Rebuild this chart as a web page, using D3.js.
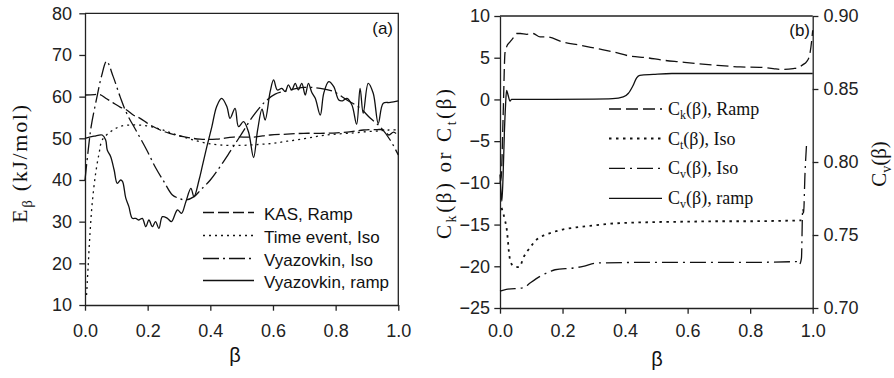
<!DOCTYPE html>
<html><head><meta charset="utf-8">
<script src="https://cdn.jsdelivr.net/npm/d3@7"></script>
<style>
html,body{margin:0;padding:0;background:#fff;}
svg{display:block;}
.tick text{font-family:"Liberation Sans",Arial,sans-serif;font-size:18px;fill:#222;}
</style></head>
<body>
<svg id="c" width="894" height="378"></svg>
<script>
// ---------- Panel (a) data ----------
const kasBeta = [0,.03,.048,.069,.09,.112,.133,.154,.176,.208,.24,.27,.314,.367,.42,.474,.538,.591,.645,.698,.751,.804,.85,.889,.932,.953,.97,.985,1.0];
const kasE    = [60.4,60.5,60.5,59.5,58.5,57.5,56.8,55.6,54.8,53.2,52,51.2,50.4,49.8,49.8,50.3,50.3,50.8,51,51.2,51.2,51.3,51.6,52,52.1,52,50.8,51.5,50.6];

const teBeta = [.005,.01,.016,.023,.034,.045,.055,.082,.114,.154,.197,.24,.27,.31,.346,.389,.431,.495,.549,.6,.645,.7,.751,.8,.857,.9,.942,.97,1.0];
const teE    = [12.4,19.2,27.2,34.4,41.6,46.4,49.6,51.6,52.9,53.2,53,52.2,51.4,50.4,49.6,48.8,48.4,48.3,48.5,48.8,49.3,49.9,50.6,51,51.3,51.6,51.8,52,52];

const vIsoBeta = [0,.01,.02,.037,.053,.069,.09,.112,.133,.165,.197,.225,.252,.279,.30,.322,.348,.369,.40,.431,.463,.495,.538,.575,.607,.645,.698,.751,.794,.836,.879,.911,.942,.974,1.0];
const vIsoE    = [40,47,53,59.5,65,68.5,64.8,60,56,51.6,47.2,43,39.6,36.4,35.6,35.2,36,37.6,40,43.2,46.8,50.5,55.5,58.8,60.6,61.4,62.2,62,61.2,59.2,57.2,54.8,52.8,49.6,46];

const vRampBeta = [0,.029,.055,.066,.071,.082,.093,.103,.114,.12,.13,.14,.151,.162,.172,.183,.194,.204,.215,.225,.236,.247,.263,.276,.295,.308,.322,.338,.348,.364,.375,.389,.405,.42,.436,.453,.463,.479,.49,.506,.522,.538,.551,.565,.575,.591,.602,.614,.628,.639,.649,.66,.671,.681,.692,.703,.713,.724,.735,.751,.762,.778,.794,.81,.822,.836,.852,.867,.878,.888,.904,.92,.936,.952,.974,1.0];
const vRampE    = [50,50.5,50.8,49.6,47.2,45.6,42.4,39.2,40,39.6,35.7,33.6,30.8,30.8,30.4,30.8,28.8,30.4,28.8,30,28.4,31.2,30.8,30,32.8,32,34.8,38,36,40,43.5,48,52.8,57.6,59.6,57.6,54.8,57.2,52.8,54,51.5,45.4,52,57,54.4,61.2,64,61.6,62,61.2,62.8,61.6,63.2,61.6,63.2,60.4,63.2,61,59.6,55.6,60.8,63.6,62.4,59.2,59,59.6,58,53.4,62,56,63.2,60.8,53.6,58.4,58.6,59];

const ticksA_y = [10,20,30,40,50,60,70,80];
const ticksX   = [0,0.2,0.4,0.6,0.8,1.0];
const legendA  = ["KAS, Ramp","Time event, Iso","Vyazovkin, Iso","Vyazovkin, ramp"];

// ---------- Panel (b) data ----------
const ckBeta = [0,.004,.01,.016,.021,.032,.043,.053,.065,.085,.106,.128,.149,.2,.256,.309,.362,.415,.469,.522,.575,.63,.69,.768,.83,.874,.895,.938,.948,.97,.98,.99,.998,1.0];
const ckVal  = [-10,-9.3,-2,5.6,6.3,6.9,7.4,7.9,7.9,7.8,7.9,7.5,7.5,6.9,6.5,6.1,5.7,5.2,5.0,4.7,4.5,4.3,4.1,3.9,3.85,3.7,3.6,3.7,3.75,4.2,4.5,5.3,7.5,8.3];

const ctBeta = [.005,.01,.016,.021,.025,.028,.034,.045,.061,.077,.095,.117,.14,.17,.2,.25,.3,.35,.4,.5,.6,.7,.8,.9,.964];
const ctVal  = [-13,-13.6,-14.5,-15.4,-16.8,-18.1,-19.5,-20,-20.1,-18.8,-17.8,-16.8,-16.3,-15.9,-15.6,-15.3,-15.1,-14.9,-14.8,-14.7,-14.65,-14.6,-14.6,-14.55,-14.5];

const cvIsoBeta = [0,.02,.075,.096,.128,.16,.176,.235,.266,.309,.45,.6,.8,.949,.957,.964,.968,.971,.975,.98];
const cvIsoVal  = [.7115,.7128,.7138,.7171,.7217,.725,.7262,.7274,.7285,.7308,.7312,.7312,.7312,.7317,.7296,.734,.768,.765,.79,.811];

const cvRampBeta = [0,.003,.006,.01,.014,.018,.021,.026,.032,.037,.1,.3,.36,.394,.41,.426,.437,.447,.49,.55,1.0];
const cvRampVal  = [.7914,.78,.7731,.7914,.82,.84,.8491,.8457,.8417,.8429,.8429,.8431,.8434,.8446,.8469,.8526,.8577,.8594,.86,.8606,.8606];

const ticksB_left  = [-25,-20,-15,-10,-5,0,5,10];
const ticksB_right = [0.70,0.75,0.80,0.85,0.90];

// ---------- drawing ----------
const svg = d3.select("#c");
const INK = "#111";
const SANS = '"Liberation Sans",Arial,sans-serif';
const SERIF = '"Liberation Serif","Times New Roman",serif';

const dashKAS = "11,4", dotTE = "2,4", dashDot = "16,4,2,4";

function zipXY(xs, ys){ return xs.map((x,i)=>[x,ys[i]]); }

// Panel (a)
const xA = d3.scaleLinear().domain([0,1]).range([85,398.3]);
const yA = d3.scaleLinear().domain([10,80]).range([305,13.3]);
const gA = svg.append("g");

function styleAxis(g){
  g.selectAll("path.domain").attr("stroke","#222").attr("stroke-width",1.3);
  g.selectAll(".tick line").attr("stroke","#222").attr("stroke-width",1.3);
}

const axAy = gA.append("g").attr("transform",`translate(${xA(0)},0)`)
  .call(d3.axisLeft(yA).tickValues(ticksA_y).tickFormat(d3.format("d")).tickSize(5.7).tickSizeOuter(0).tickPadding(7.3));
styleAxis(axAy);
const axAx = gA.append("g").attr("transform",`translate(0,${yA(10)})`)
  .call(d3.axisBottom(xA).tickValues(ticksX).tickFormat(d3.format(".1f")).tickSize(5.7).tickSizeOuter(0).tickPadding(13.2));
styleAxis(axAx);
gA.append("path").attr("d",`M${xA(0)},${yA(80)}H${xA(1)}V${yA(10)}`)
  .attr("fill","none").attr("stroke","#222").attr("stroke-width",1.3);

const lineA = d3.line().x(d=>xA(d[0])).y(d=>yA(d[1])).curve(d3.curveCatmullRom.alpha(0.5));
const seriesA = [
  {data:zipXY(kasBeta,kasE), dash:dashKAS},
  {data:zipXY(teBeta,teE), dash:dotTE},
  {data:zipXY(vIsoBeta,vIsoE), dash:dashDot},
  {data:zipXY(vRampBeta,vRampE), dash:null}
];
seriesA.forEach(s=>{
  gA.append("path").attr("d",lineA(s.data)).attr("fill","none")
    .attr("stroke",INK).attr("stroke-width",1.3)
    .attr("stroke-dasharray",s.dash);
});

const legAy = [212.5,235.5,258.5,280.5];
legendA.forEach((t,i)=>{
  gA.append("line").attr("x1",203).attr("x2",254).attr("y1",legAy[i]).attr("y2",legAy[i])
    .attr("stroke",INK).attr("stroke-width",1.3).attr("stroke-dasharray",seriesA[i].dash);
  gA.append("text").attr("x",264).attr("y",legAy[i]+7).text(t)
    .attr("font-family",SANS).attr("font-size",17).attr("fill","#111");
});
gA.append("text").attr("x",393).attr("y",34).attr("text-anchor","end").text("(a)")
  .attr("font-family",SANS).attr("font-size",17).attr("fill","#111");
gA.append("text").attr("x",235).attr("y",362).attr("text-anchor","middle").text("β")
  .attr("font-family",SANS).attr("font-size",20).attr("fill","#111");
{
  const t = gA.append("text").attr("transform","translate(27,164) rotate(-90)")
    .attr("text-anchor","middle").attr("font-family",SERIF).attr("font-size",22).attr("fill","#111")
    .attr("textLength",118).attr("lengthAdjust","spacing");
  t.append("tspan").text("E");
  t.append("tspan").attr("font-size",15).attr("dy",5).text("β");
  t.append("tspan").attr("dy",-5).text(" (kJ/mol)");
}

// Panel (b)
const xB = d3.scaleLinear().domain([0,1]).range([500,812.7]);
const yBL = d3.scaleLinear().domain([-25,10]).range([308,16]);
const yBR = d3.scaleLinear().domain([0.7,0.9]).range([308,16]);
const gB = svg.append("g");

const axBl = gB.append("g").attr("transform",`translate(${xB(0)},0)`)
  .call(d3.axisLeft(yBL).tickValues(ticksB_left).tickFormat(d3.format("d")).tickSize(5.7).tickSizeOuter(0).tickPadding(4.3));
styleAxis(axBl);
const axBr = gB.append("g").attr("transform",`translate(${xB(1)},0)`)
  .call(d3.axisRight(yBR).tickValues(ticksB_right).tickFormat(d3.format(".2f")).tickSize(5.7).tickSizeOuter(0).tickPadding(5));
styleAxis(axBr);
const axBx = gB.append("g").attr("transform",`translate(0,${yBL(-25)})`)
  .call(d3.axisBottom(xB).tickValues(ticksX).tickFormat(d3.format(".1f")).tickSize(5.7).tickSizeOuter(0).tickPadding(10.5));
styleAxis(axBx);
gB.append("path").attr("d",`M${xB(0)},${yBL(10)}H${xB(1)}`)
  .attr("fill","none").attr("stroke","#222").attr("stroke-width",1.3);

const lineBL = d3.line().x(d=>xB(d[0])).y(d=>yBL(d[1])).curve(d3.curveMonotoneX);
const lineBR = d3.line().x(d=>xB(d[0])).y(d=>yBR(d[1])).curve(d3.curveMonotoneX);
const dashCk = "12,5", dotCt = "2.5,4.5", dashCv = "16,5,2,5";
const seriesB = [
  {d:lineBL(zipXY(ckBeta,ckVal)), dash:dashCk},
  {d:lineBL(zipXY(ctBeta,ctVal)), dash:dotCt, w:1.8},
  {d:lineBR(zipXY(cvIsoBeta,cvIsoVal)), dash:dashCv},
  {d:lineBR(zipXY(cvRampBeta,cvRampVal)), dash:null}
];
seriesB.forEach(s=>{
  gB.append("path").attr("d",s.d).attr("fill","none").attr("stroke",INK)
    .attr("stroke-width",s.w||1.3).attr("stroke-dasharray",s.dash);
});

const legB = [["k","(β), Ramp"],["t","(β), Iso"],["v","(β), Iso"],["v","(β), ramp"]];
const legBy = [109,138.5,168.3,198.3];
legB.forEach((l,i)=>{
  gB.append("line").attr("x1",609).attr("x2",662).attr("y1",legBy[i]).attr("y2",legBy[i])
    .attr("stroke",INK).attr("stroke-width",seriesB[i].w||1.3).attr("stroke-dasharray",seriesB[i].dash);
  const t = gB.append("text").attr("x",668).attr("y",legBy[i]+6)
    .attr("font-family",SERIF).attr("font-size",18).attr("fill","#111");
  t.append("tspan").text("C");
  t.append("tspan").attr("font-size",12).attr("dy",4).text(l[0]);
  t.append("tspan").attr("dy",-4).text(l[1]);
});
gB.append("text").attr("x",810).attr("y",36).attr("text-anchor","end").text("(b)")
  .attr("font-family",SANS).attr("font-size",17).attr("fill","#111");
gB.append("text").attr("x",657).attr("y",366).attr("text-anchor","middle").text("β")
  .attr("font-family",SANS).attr("font-size",20).attr("fill","#111");
{
  const t = gB.append("text").attr("transform","translate(451,164) rotate(-90)")
    .attr("text-anchor","middle").attr("font-family",SERIF).attr("font-size",21).attr("fill","#111")
    .attr("textLength",150).attr("lengthAdjust","spacing");
  t.append("tspan").text("C");
  t.append("tspan").attr("font-size",14).attr("dy",5).text("k");
  t.append("tspan").attr("dy",-5).text("(β) or C");
  t.append("tspan").attr("font-size",14).attr("dy",5).text("t");
  t.append("tspan").attr("dy",-5).text("(β)");
}
{
  const t = gB.append("text").attr("transform","translate(886,164) rotate(-90)")
    .attr("text-anchor","middle").attr("font-family",SERIF).attr("font-size",21).attr("fill","#111");
  t.append("tspan").text("C");
  t.append("tspan").attr("font-size",14).attr("dy",5).text("v");
  t.append("tspan").attr("dy",-5).text("(β)");
}
</script>
</body></html>
